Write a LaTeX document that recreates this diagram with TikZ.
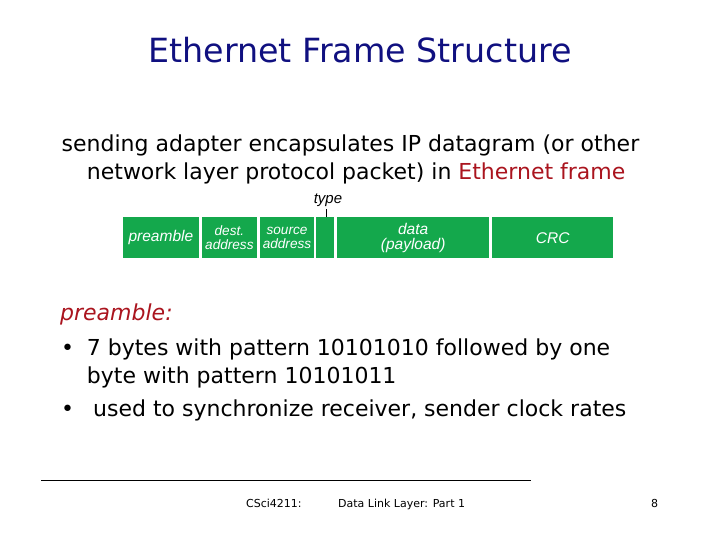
\documentclass[tikz,border=0pt]{standalone}
\usepackage{fontspec}
\setmainfont{DejaVu Sans}
\newfontfamily\framefont{Liberation Sans}
\definecolor{titleblue}{RGB}{16,16,128}
\definecolor{darkred}{RGB}{170,20,30}
\definecolor{framegreen}{RGB}{20,168,76}
\begin{document}
\begin{tikzpicture}[x=1pt,y=-1pt,
  body/.style={anchor=base west, inner sep=0pt, font=\fontsize{22}{26}\selectfont},
  foot/.style={anchor=base west, inner sep=0pt, font=\fontsize{11}{13}\selectfont},
  field/.style={fill=framegreen, text=white, inner sep=0pt, minimum height=41pt,
    font=\framefont\itshape\fontsize{15.5}{15}\selectfont, align=center},
  field2/.style={field, font=\framefont\itshape\fontsize{13.6}{14.6}\selectfont},
]
\useasboundingbox (0,0) rectangle (720,540);
% title
\node[anchor=base, inner sep=0pt, text=titleblue, font=\fontsize{33.3}{38}\selectfont] (title) at (360,63) {Ethernet Frame Structure};
% intro
\node[body] (l1) at (61.5,152) {sending adapter encapsulates IP datagram (or other};
\node[body] (l2) at (86.7,180) {network layer protocol packet) in \textcolor{darkred}{Ethernet frame}};
% frame
\node[field, minimum width=76.3pt] (pre) at (160.9,237.8) {preamble};
\node[field2, minimum width=54.7pt] (dst) at (229.4,237.8) {dest.\\address};
\node[field2, minimum width=54pt] (src) at (287,237.8) {source\\address};
\node[field, minimum width=17.7pt] (typ) at (324.9,237.8) {};
\node[field2, font=\framefont\itshape\fontsize{15.5}{14.6}\selectfont, minimum width=151.7pt] (dat) at (413.2,237.8) {data\\(payload)};
\node[field, minimum width=121.3pt] (crc) at (552.7,237.8) {CRC};
\node[inner sep=0pt, font=\framefont\itshape\fontsize{15}{15}\selectfont] (typelbl) at (328,200) {type};
\coordinate (tick) at (326.7,209.5);
\draw[line width=0.8pt] (tick) -- (tick |- typ.north);
% preamble description
\node[body, text=darkred, font=\itshape\fontsize{22}{26}\selectfont] (ph) at (60,320) {preamble:};
\node[body] (b1) at (61,355) {\textbullet};
\node[body] (t1) at (86.7,355) {7 bytes with pattern 10101010 followed by one};
\node[body] (t1b) at (86.7,383) {byte with pattern 10101011};
\node[body] (b2) at (61,416.7) {\textbullet};
\node[body] (t2) at (93,416.7) {used to synchronize receiver, sender clock rates};
% footer
\coordinate (fl) at (41,480.5);
\coordinate (fr) at (531,480.5);
\draw[line width=1pt] (fl) -- (fr);
\node[foot] (f1) at (246,507.5) {CSci4211:};
\node[foot] (f2) at (338,507.5) {Data Link Layer: Part 1};
\node[foot] (f3) at (651,507.5) {8};
\end{tikzpicture}
\end{document}
